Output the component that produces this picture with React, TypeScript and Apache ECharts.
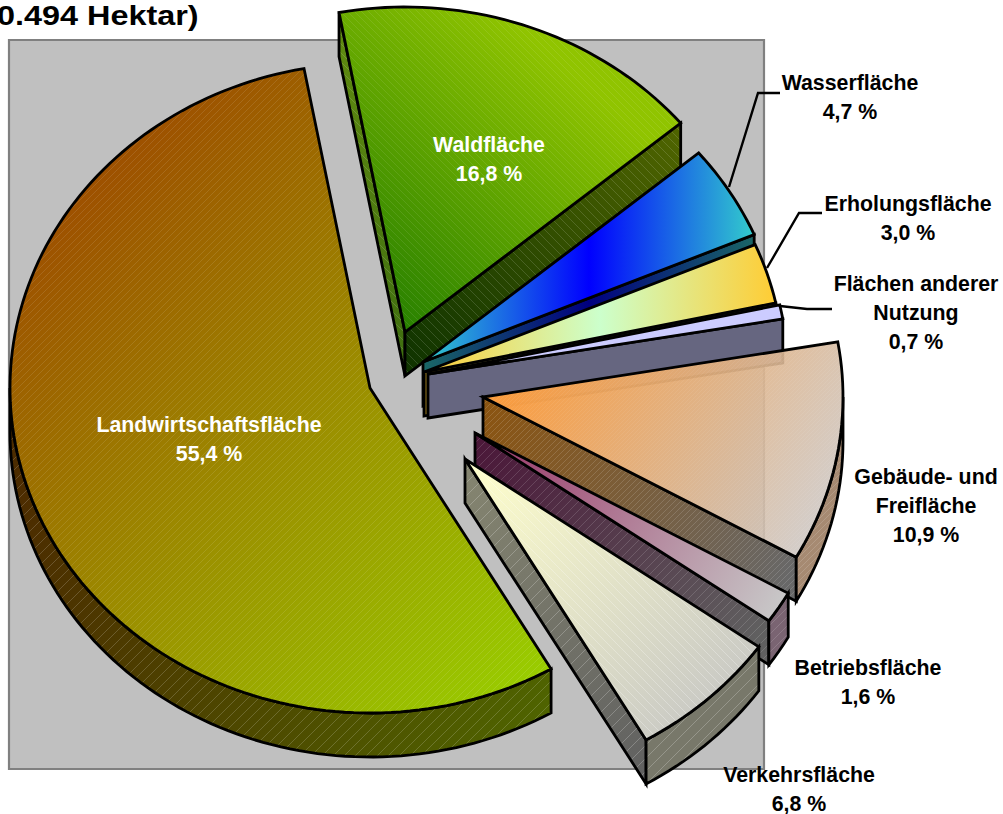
import React, { useEffect, useRef } from "react";
import * as echarts from "echarts";

const titleText = "0.494 Hektar)";
const categories = [
  "Landwirtschaftsfläche",
  "Waldfläche",
  "Wasserfläche",
  "Erholungsfläche",
  "Flächen anderer\nNutzung",
  "Gebäude- und\nFreifläche",
  "Betriebsfläche",
  "Verkehrsfläche",
];
const shares = [55.4, 16.8, 4.7, 3.0, 0.7, 10.9, 1.6, 6.8];

const START_ANGLE = 149.8;
const RX = 360;
const RY = 325;
const DEPTH = 44;
const apexes = [
  [370, 388], [405, 332], [423, 362], [424, 372],
  [428, 374], [483, 397], [475, 433], [465, 459],
];
const labelPlaces = [
  [209, 424, "#fff"], [489, 144, "#fff"], [850, 82, "#000"], [908, 203, "#000"],
  [916, 283, "#000"], [926, 476, "#000"], [868, 667, "#000"], [799, 774, "#000"],
];
const leaders = [
  [[780, 93], [758, 93], [729, 187]],
  [[822, 213], [799, 213], [767, 268]],
  [[832, 309], [807, 309], [780, 306]],
];

const hatch = (dir: number, size: number, alpha: number) => {
  const d = dir > 0
    ? `M-1 ${size + 1}L${size + 1} -1M-1 1L1 -1M${size - 1} ${size + 1}L${size + 1} ${size - 1}`
    : `M-1 -1L${size + 1} ${size + 1}M-1 ${size - 1}L1 ${size + 1}M${size - 1} -1L${size + 1} 1`;
  const svg = `<svg xmlns="http://www.w3.org/2000/svg" width="${size}" height="${size}"><path d="${d}" stroke="#fff" stroke-opacity="${alpha}" stroke-width="0.9" fill="none"/></svg>`;
  return {
    image: "data:image/svg+xml;charset=utf-8," + encodeURIComponent(svg),
    repeat: "repeat",
    imageWidth: size,
    imageHeight: size,
  };
};

const lin = (x: number, y: number, x2: number, y2: number, colors: string[]) => ({
  type: "linear", x, y, x2, y2, global: true,
  colorStops: colors.map((color, i) => ({ offset: i / (colors.length - 1), color })),
});

const looks: any[] = [
  {
    top: lin(60, 150, 560, 650, ["#9E4800", "#99CC00"]),
    topHatch: hatch(1, 7, 0.12),
    outer: lin(20, 500, 550, 720, ["#4C2C00", "#4F6400"]),
    wallHatch: hatch(1, 11, 0.2),
  },
  {
    top: lin(350, 320, 570, 70, ["#1E7A00", "#90C400"]),
    topHatch: hatch(-1, 7, 0.1),
    startWall: lin(340, 30, 405, 370, ["#5F8A10", "#3F6E10"]),
    endWall: lin(406, 370, 680, 130, ["#0F3300", "#4F6400"]),
    wallHatch: hatch(-1, 9, 0.16),
  },
  {
    top: lin(424, 0, 754, 0, ["#33CCCC", "#0000FF", "#33CCCC"]),
    endWall: lin(424, 0, 754, 0, ["#1A6666", "#000080", "#1A6666"]),
  },
  {
    top: lin(424, 0, 776, 0, ["#FFCC33", "#CCFFCC", "#FFCC33"]),
    endWall: lin(424, 0, 776, 0, ["#806619", "#667F66", "#806619"]),
  },
  { top: "#CCCCFF", endWall: "#666680" },
  {
    top: lin(483, 370, 800, 560, ["#FF9933", "rgba(204,198,194,0.86)"]),
    topHatch: hatch(1, 4, 0.07),
    endWall: lin(483, 400, 797, 560, ["#8B5410", "#686868"]),
    outer: "#A68A72",
    wallHatch: hatch(1, 6, 0.16),
  },
  {
    top: lin(475, 433, 780, 610, ["#993366", "#C8C8C8"]),
    endWall: lin(475, 433, 770, 620, ["#4A1638", "#606060"]),
    outer: "#7A6472",
    wallHatch: hatch(1, 9, 0.16),
  },
  {
    top: lin(470, 460, 710, 720, ["#FFFFCC", "#C8C8C4"]),
    topHatch: hatch(-1, 9, 0.3),
    endWall: lin(465, 470, 645, 785, ["#858570", "#606060"]),
    outer: "#78786A",
    wallHatch: hatch(1, 13, 0.25),
  },
];

const total = shares.reduce((a, b) => a + b, 0);
const spans = shares.map((v) => (v / total) * 360);
const startOf = (i: number) =>
  (START_ANGLE + spans.slice(0, i).reduce((a, b) => a + b, 0)) % 360;

const point = (c: number[], t: number, drop = 0) => {
  const r = (t * Math.PI) / 180;
  return [c[0] + RX * Math.sin(r), c[1] - RY * Math.cos(r) + drop];
};
const arc = (c: number[], a: number, b: number, drop = 0) => {
  const n = Math.max(2, Math.ceil(Math.abs(b - a) / 1.5));
  const pts: number[][] = [];
  for (let k = 0; k <= n; k++) pts.push(point(c, a + ((b - a) * k) / n, drop));
  return pts;
};

const LW = 2.8;
const face = (points: number[][], fill: any, pattern?: any) => {
  const shape = { points };
  const out: any[] = [{ type: "polygon", shape, style: { fill, stroke: pattern ? "none" : "#000", lineWidth: LW, lineJoin: "miter" } }];
  if (pattern) out.push({ type: "polygon", shape, style: { fill: pattern, stroke: "#000", lineWidth: LW, lineJoin: "miter" } });
  return out;
};

const renderItem = (params: any, api: any) => {
  const i = params.dataIndex;
  const span = (api.value(0) / total) * 360;
  const a = startOf(i);
  const b = a + span;
  const c = apexes[i];
  const look = looks[i];
  const children: any[] = [];
  const wall = (t: number, fill: any) => {
    const p = point(c, t);
    return face([c, p, [p[0], p[1] + DEPTH], [c[0], c[1] + DEPTH]], fill, look.wallHatch);
  };
  const sinA = Math.sin((a * Math.PI) / 180);
  const sinB = Math.sin((b * Math.PI) / 180);
  if (sinA < 0 && look.startWall) children.push(...wall(a, look.startWall));
  if (sinB > 0 && look.endWall) children.push(...wall(b, look.endWall));
  const from = Math.max(a, 90);
  const to = Math.min(b, 270);
  if (to > from && look.outer) {
    children.push(
      ...face([...arc(c, from, to), ...arc(c, to, from, DEPTH)], look.outer, look.wallHatch)
    );
  }
  children.push(...face([c, ...arc(c, a, b)], look.top, look.topHatch));
  return { type: "group", children };
};

const labelText = (i: number) =>
  `${categories[i]}\n${shares[i].toFixed(1).replace(".", ",")} %`;

export default function App() {
  const ref = useRef<HTMLDivElement>(null);
  useEffect(() => {
    const chart = echarts.init(ref.current!, undefined, { renderer: "svg" });
    chart.setOption({
      animation: false,
      backgroundColor: "#fff",
      graphic: {
        elements: [
          {
            type: "text", z: 100, silent: true,
            x: -3, y: 2, scaleX: 1.2, scaleY: 1,
            style: {
              text: titleText,
              fill: "#000",
              font: 'bold 27px "Liberation Sans"',
              align: "left",
              verticalAlign: "top",
            },
          },
          {
            type: "rect", z: 0, silent: true,
            shape: { x: 9, y: 40, width: 755, height: 729 },
            style: { fill: "#C0C0C0", stroke: "#808080", lineWidth: 2.2 },
          },
          ...leaders.map((pts) => ({
            type: "polyline", z: 1, silent: true,
            shape: { points: pts },
            style: { fill: "none", stroke: "#000", lineWidth: 2.4 },
          })),
          ...categories.map((_, i) => ({
            type: "text", z: 100, silent: true,
            x: labelPlaces[i][0] as number,
            y: (labelPlaces[i][1] as number) - 14,
            style: {
              text: labelText(i),
              fill: labelPlaces[i][2] as string,
              font: 'bold 21.33px "Liberation Sans"',
              lineHeight: 29,
              align: "center",
              verticalAlign: "top",
            },
          })),
        ],
      },
      series: [
        {
          type: "custom",
          coordinateSystem: "none",
          z: 10,
          silent: true,
          clip: false,
          data: shares.map((v, i) => ({ name: categories[i], value: [v] })),
          renderItem,
        },
      ],
    });
    return () => chart.dispose();
  }, []);
  return (
    <div
      ref={ref}
      style={{ position: "fixed", left: 0, top: 0, width: 1003, height: 814 }}
    />
  );
}
